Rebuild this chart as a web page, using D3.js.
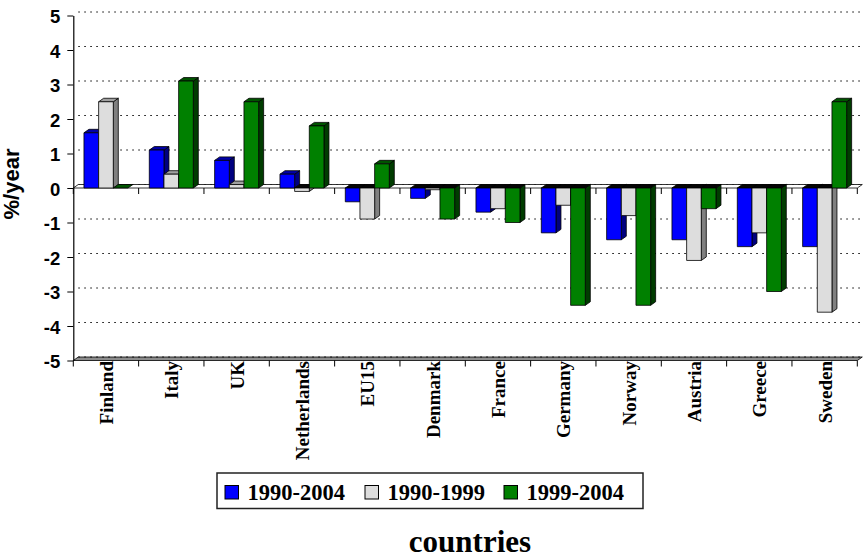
<!DOCTYPE html>
<html>
<head>
<meta charset="utf-8">
<script src="https://cdn.jsdelivr.net/npm/d3@7"></script>
<style>
  html, body { margin: 0; padding: 0; background: #fff; }
  svg { display: block; }
</style>
</head>
<body>
<svg id="chart" width="863" height="558"></svg>
<script>
// Annual change (%/year) by country and period
const countries = ["Finland", "Italy", "UK", "Netherlands", "EU15", "Denmark",
                   "France", "Germany", "Norway", "Austria", "Greece", "Sweden"];
const periods = ["1990-2004", "1990-1999", "1999-2004"];
const v1990_2004 = [1.6, 1.1, 0.8, 0.4, -0.4, -0.3, -0.7, -1.3, -1.5, -1.5, -1.7, -1.7];
const v1990_1999 = [2.5, 0.4, 0.1, -0.1, -0.9, -0.05, -0.6, -0.5, -0.8, -2.1, -1.3, -3.6];
const v1999_2004 = [0.0, 3.1, 2.5, 1.8, 0.7, -0.9, -1.0, -3.4, -3.4, -0.6, -3.0, 2.5];
const yTicks = [-5, -4, -3, -2, -1, 0, 1, 2, 3, 4, 5];

const seriesValues = [v1990_2004, v1990_1999, v1999_2004];
const faces = [
  { front: "#0000ff", side: "#000080", top: "#0000a8" },
  { front: "#dddddd", side: "#808080", top: "#a0a0a0" },
  { front: "#008000", side: "#003c00", top: "#005400" }
];

const svg = d3.select("#chart");
const DX = 5, DY = -3.5;          // depth offset of the 3D walls and bars

const x = d3.scaleBand().domain(countries)
  .range([73.3, 857.3]).paddingInner(0.3265).paddingOuter(0.16325);
const xs = d3.scaleBand().domain(periods).range([0, x.bandwidth()]);
const y = d3.scaleLinear().domain([-5, 5]).range([360.5, 15.5]);
const [xL, xR] = x.range();
const y0 = y(0);

// back wall gridlines (dotted)
const grid = svg.append("g");
yTicks.forEach(t => {
  if (t === -5) return;
  grid.append("line")
    .attr("x1", xL + DX).attr("x2", xR + DX)
    .attr("y1", y(t) + DY).attr("y2", y(t) + DY)
    .attr("stroke", "#000").attr("stroke-width", 1)
    .attr("stroke-dasharray", "1.5,4.5");
});

// floor
svg.append("polygon")
  .attr("points", [[xL, y(-5)], [xR, y(-5)], [xR + DX, y(-5) + DY], [xL + DX, y(-5) + DY]].join(" "))
  .attr("fill", "#8c8c8c").attr("stroke", "#000").attr("stroke-width", 0.8);
svg.append("line")
  .attr("x1", xL + DX).attr("x2", xR + DX)
  .attr("y1", y(-5) + DY).attr("y2", y(-5) + DY)
  .attr("stroke", "#000").attr("stroke-width", 1)
  .attr("stroke-dasharray", "1.5,4.5");

// zero plane
svg.append("polygon")
  .attr("points", [[xL, y0], [xR, y0], [xR + DX, y0 + DY], [xL + DX, y0 + DY]].join(" "))
  .attr("fill", "#fff").attr("stroke", "#000").attr("stroke-width", 0.8);

// category tick marks at the zero line and at the bottom axis
const bounds = d3.range(countries.length + 1).map(i => xL + i * x.step());
svg.append("g").selectAll("line.t0").data(bounds).join("line")
  .attr("x1", d => d).attr("x2", d => d)
  .attr("y1", y0).attr("y2", y0 + 6)
  .attr("stroke", "#000").attr("stroke-width", 1);
svg.append("g").selectAll("line.tb").data(bounds).join("line")
  .attr("x1", d => d).attr("x2", d => d)
  .attr("y1", y(-5)).attr("y2", y(-5) + 6)
  .attr("stroke", "#000").attr("stroke-width", 1);

// 3D columns, drawn left to right so nearer faces overlap properly
const bars = svg.append("g").attr("stroke", "#000").attr("stroke-width", 0.8)
  .attr("stroke-linejoin", "round");
countries.forEach((c, ci) => {
  periods.forEach((p, si) => {
    const v = seriesValues[si][ci];
    const f = faces[si];
    const x1 = x(c) + xs(p), x2 = x1 + xs.bandwidth();
    const yv = y(v);
    const yTop = Math.min(yv, y0), yBot = Math.max(yv, y0);
    if (yBot - yTop > 0.01) {
      bars.append("polygon")
        .attr("points", [[x2, yTop], [x2 + DX, yTop + DY], [x2 + DX, yBot + DY], [x2, yBot]].join(" "))
        .attr("fill", f.side);
    }
    bars.append("polygon")
      .attr("points", [[x1, yTop], [x1 + DX, yTop + DY], [x2 + DX, yTop + DY], [x2, yTop]].join(" "))
      .attr("fill", v < 0 ? "#050505" : f.top);
    if (yBot - yTop > 0.01) {
      bars.append("rect")
        .attr("x", x1).attr("y", yTop)
        .attr("width", x2 - x1).attr("height", yBot - yTop)
        .attr("fill", f.front);
    }
  });
});

// value axis
const yAxis = svg.append("g")
  .attr("transform", `translate(${xL},0)`)
  .call(d3.axisLeft(y).tickValues(yTicks).tickFormat(d => String(d))
    .tickSize(6).tickSizeOuter(0).tickPadding(7));
yAxis.select(".domain").attr("stroke", "#000").attr("stroke-width", 1.2);
yAxis.selectAll(".tick line").attr("stroke", "#000").attr("stroke-width", 1);
yAxis.selectAll(".tick text")
  .attr("font-family", "Liberation Sans, Arial, sans-serif")
  .attr("font-weight", "bold").attr("font-size", 18.5)
  .attr("fill", "#000").attr("dy", "0.38em");

svg.append("text")
  .attr("transform", "translate(18.5,184) rotate(-90)")
  .attr("text-anchor", "middle")
  .attr("font-family", "Liberation Sans, Arial, sans-serif")
  .attr("font-weight", "bold").attr("font-size", 22)
  .text("%/year");

// category labels
svg.append("g").selectAll("text").data(countries).join("text")
  .attr("transform", d => `translate(${x(d) + x.bandwidth() / 2 + 7},361) rotate(-90)`)
  .attr("text-anchor", "end")
  .attr("font-family", "Liberation Serif, Times New Roman, serif")
  .attr("font-weight", "bold").attr("font-size", 19)
  .text(d => d);

// legend
const legend = svg.append("g");
legend.append("rect")
  .attr("x", 217).attr("y", 473).attr("width", 426).attr("height", 35.5)
  .attr("fill", "#fff").attr("stroke", "#222").attr("stroke-width", 1.5);
const legendX = [225, 365, 504];
periods.forEach((p, i) => {
  legend.append("rect")
    .attr("x", legendX[i]).attr("y", 485.5).attr("width", 13.5).attr("height", 13.5)
    .attr("fill", faces[i].front).attr("stroke", "#000").attr("stroke-width", 1);
  legend.append("text")
    .attr("x", legendX[i] + 22.5).attr("y", 499.5)
    .attr("font-family", "Liberation Serif, Times New Roman, serif")
    .attr("font-weight", "bold").attr("font-size", 22.5)
    .text(p);
});

svg.append("text")
  .attr("x", 470).attr("y", 551.5)
  .attr("text-anchor", "middle")
  .attr("font-family", "Liberation Serif, Times New Roman, serif")
  .attr("font-weight", "bold").attr("font-size", 31)
  .text("countries");
</script>
</body>
</html>
